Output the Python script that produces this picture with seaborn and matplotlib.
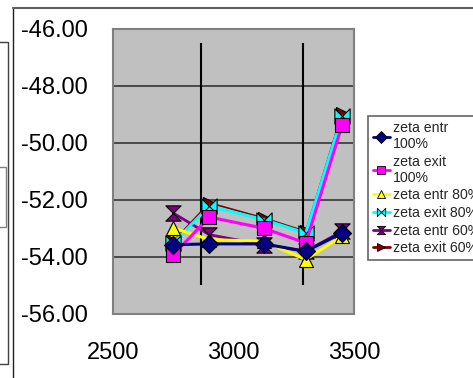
import numpy as np
import pandas as pd
import matplotlib
matplotlib.use("Agg")
import matplotlib.pyplot as plt
import seaborn as sns
from matplotlib.path import Path
from matplotlib.lines import Line2D
from matplotlib.patches import Rectangle

# ---- data ----
x_vals = [2750, 2900, 3125, 3300, 3450]
zeta_entr_100 = [-53.57, -53.54, -53.54, -53.80, -53.16]
zeta_exit_100 = [-53.92, -52.60, -52.99, -53.51, -49.38]
zeta_entr_80 = [-52.98, -53.39, -53.45, -54.09, -53.27]
zeta_exit_80 = [-53.50, -52.22, -52.69, -53.16, -49.06]
zeta_entr_60 = [-52.46, -53.22, -53.57, -53.80, -53.10]
zeta_exit_60 = [-53.45, -52.10, -52.63, -53.10, -48.95]
series_names = ["zeta entr\n100%", "zeta exit\n100%", "zeta entr 80%",
                "zeta exit 80%", "zeta entr 60%", "zeta exit 60%"]
vline_x = [2865, 3288]
vline_ymin = -55.0
vline_ymax = -46.5
y_ticks = [-56, -54, -52, -50, -48, -46]
x_ticks = [2500, 3000, 3500]

series_vals = [zeta_entr_100, zeta_exit_100, zeta_entr_80,
               zeta_exit_80, zeta_entr_60, zeta_exit_60]

rows = []
for name, vals in zip(series_names, series_vals):
    for xv, yv in zip(x_vals, vals):
        rows.append({"x": xv, "y": yv, "series": name})
df = pd.DataFrame(rows)

bowtie = Path([(-1, -1), (1, 1), (1, -1), (-1, 1), (-1, -1)],
              [Path.MOVETO, Path.LINETO, Path.LINETO, Path.LINETO, Path.CLOSEPOLY])
hourglass = Path([(-1, 1), (1, 1), (-1, -1), (1, -1), (-1, 1)],
                 [Path.MOVETO, Path.LINETO, Path.LINETO, Path.LINETO, Path.CLOSEPOLY])

colors = ["#000080", "#FF00FF", "#FFFF00", "#00FFFF", "#800080", "#800000"]
markers = ["D", "s", "^", bowtie, hourglass, ">"]
msizes = [9, 10, 10, 11, 11, 9]
lws = [2.2, 2.2, 2.2, 2.2, 2.0, 1.2]

sns.set_theme(style="white")
plt.rcParams["font.family"] = ["Liberation Sans", "DejaVu Sans"]

fig = plt.figure(figsize=(4.73, 3.78), dpi=100)
ax = fig.add_axes([113 / 473, 1 - 314 / 378, (354 - 113) / 473, (314 - 29) / 378])
ax.set_facecolor("#C0C0C0")

# draw in reverse order so first series ends on top
for i in reversed(range(len(series_names))):
    sub = df[df["series"] == series_names[i]]
    sns.lineplot(data=sub, x="x", y="y", ax=ax, color=colors[i], lw=lws[i],
                 marker=markers[i], markersize=msizes[i], markeredgecolor="black",
                 markeredgewidth=0.8, markerfacecolor=colors[i], legend=False,
                 zorder=3 + (len(series_names) - i))

ax.vlines(vline_x, vline_ymin, vline_ymax, colors="black", lw=1.5, zorder=2)

ax.set_xlim(2500, 3500)
ax.set_ylim(-56, -46)
ax.set_yticks(y_ticks)
ax.set_yticklabels([f"{v:.2f}" for v in y_ticks])
ax.set_xticks(x_ticks)
ax.set_xticklabels([str(v) for v in x_ticks])
ax.yaxis.grid(True, color="#404040", lw=1.3)
ax.xaxis.grid(False)
ax.set_axisbelow(True)
ax.set_xlabel("")
ax.set_ylabel("")
for sp in ax.spines.values():
    sp.set_color("#808080")
    sp.set_linewidth(1.5)
ax.tick_params(axis="both", which="major", labelsize=17, colors="#C0C0C0",
               labelcolor="black", length=6, width=1, direction="out")
ax.tick_params(axis="y", pad=12)
ax.tick_params(axis="x", pad=14)

# legend
handles = []
for i in range(len(series_names)):
    handles.append(Line2D([0], [0], color=colors[i], lw=2, marker=markers[i],
                          markersize=6, markeredgecolor="black", markeredgewidth=0.6,
                          markerfacecolor=colors[i]))
leg = fig.legend(handles, series_names, loc="upper left",
                 bbox_to_anchor=(368 / 473, 1 - 116 / 378),
                 bbox_transform=fig.transFigure, frameon=True, fancybox=False,
                 fontsize=10.2, handlelength=1.2, handletextpad=0.2,
                 borderpad=0.35, labelspacing=0.25, borderaxespad=0)
leg.get_frame().set_edgecolor("#404040")
leg.get_frame().set_linewidth(1.2)

# outer frame decorations
W, H = 473, 378
def fx(px):
    return px / W
def fy(py):
    return 1 - py / H
fig.add_artist(Line2D([fx(13), fx(13)], [fy(7), fy(378)], color="#202020", lw=1.0,
                      transform=fig.transFigure))
fig.add_artist(Line2D([fx(13), fx(473)], [fy(7.5), fy(7.5)], color="#606060", lw=1.5,
                      transform=fig.transFigure))
fig.add_artist(Rectangle((fx(-2), fy(364)), fx(10), (364 - 42) / H, fill=False,
                         edgecolor="#404040", lw=1.0, transform=fig.transFigure))
fig.add_artist(Rectangle((fx(-2), fy(227)), fx(8), (227 - 167) / H, fill=False,
                         edgecolor="#808080", lw=1.0, transform=fig.transFigure))

fig.savefig("out.png", dpi=100)
